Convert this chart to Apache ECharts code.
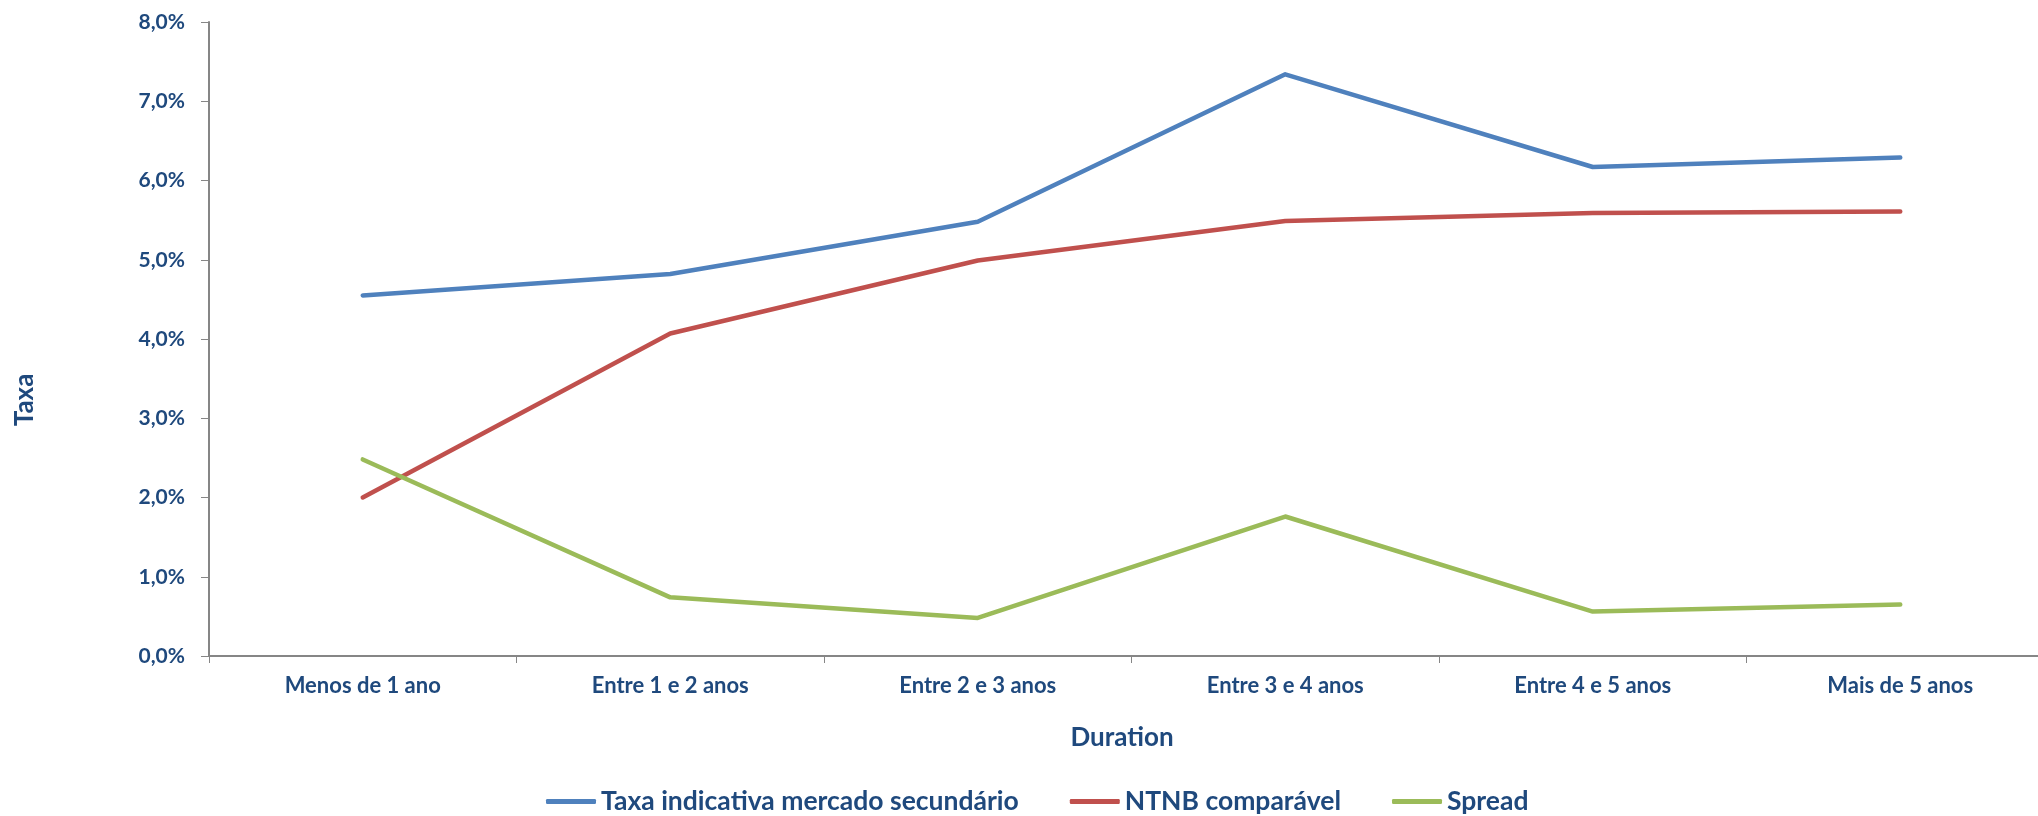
<!DOCTYPE html>
<html>
<head>
<meta charset="utf-8">
<script src="https://cdn.jsdelivr.net/npm/echarts@6/dist/echarts.min.js"></script>
<style>
html,body{margin:0;padding:0;background:#fff;}
#chart{width:2038px;height:816px;}
</style>
</head>
<body>
<div id="chart"></div>
<script>
const categories = ['Menos de 1 ano', 'Entre 1 e 2 anos', 'Entre 2 e 3 anos', 'Entre 3 e 4 anos', 'Entre 4 e 5 anos', 'Mais de 5 anos'];
const seriesNames = ['Taxa indicativa mercado secundário', 'NTNB comparável', 'Spread'];
const taxaIndicativa = [4.55, 4.82, 5.48, 7.34, 6.17, 6.29];
const ntnbComparavel = [2.00, 4.07, 4.99, 5.49, 5.59, 5.61];
const spread = [2.48, 0.74, 0.48, 1.76, 0.56, 0.65];
const yTicks = [0, 1, 2, 3, 4, 5, 6, 7, 8];

const FONT = 'Lato, "Open Sans", sans-serif';
const TXT = '#1F497D';
const AX = '#868686';

const chart = echarts.init(document.getElementById('chart'), null, {renderer: 'canvas'});
function mk(name, data, color) {
  return {
    name: name, type: 'line', data: data, symbol: 'none',
    lineStyle: {color: color, width: 4.5, cap: 'round', join: 'round'},
    itemStyle: {color: color}
  };
}
chart.setOption({
  animation: false,
  backgroundColor: '#fff',
  textStyle: {fontFamily: FONT},
  grid: {left: 209, top: 22, height: 634, width: 1845, containLabel: false, outerBoundsMode: 'none'},
  xAxis: {
    type: 'category', data: categories, boundaryGap: true,
    axisLine: {lineStyle: {color: AX, width: 2}},
    axisTick: {show: true, length: 7, lineStyle: {color: AX, width: 1}},
    axisLabel: {color: TXT, fontFamily: FONT, fontWeight: 'bold', fontSize: 22, margin: 19}
  },
  yAxis: {
    type: 'value', min: yTicks[0], max: yTicks[yTicks.length - 1], interval: 1,
    axisLine: {show: true, lineStyle: {color: AX, width: 2}},
    axisTick: {show: true, length: 8, lineStyle: {color: AX, width: 1}},
    splitLine: {show: false},
    axisLabel: {color: TXT, fontFamily: FONT, fontWeight: 'bold', fontSize: 21, margin: 24,
      formatter: v => v.toFixed(1).replace('.', ',') + '%'}
  },
  legend: {
    data: seriesNames, left: 541, top: 783, itemGap: 51,
    icon: 'roundRect', itemWidth: 50, itemHeight: 5,
    textStyle: {color: TXT, fontFamily: FONT, fontWeight: 'bold', fontSize: 26.5}
  },
  graphic: [
    {type: 'text', x: 25, y: 400, rotation: Math.PI / 2,
      style: {text: 'Taxa', fill: TXT, font: 'bold 26px ' + FONT, textAlign: 'center', textVerticalAlign: 'middle'}},
    {type: 'text', x: 1122, y: 738,
      style: {text: 'Duration', fill: TXT, font: 'bold 26px ' + FONT, textAlign: 'center', textVerticalAlign: 'middle'}}
  ],
  series: [
    mk(seriesNames[0], taxaIndicativa, '#4F81BD'),
    mk(seriesNames[1], ntnbComparavel, '#C0504D'),
    mk(seriesNames[2], spread, '#9BBB59')
  ]
});
</script>
</body>
</html>
